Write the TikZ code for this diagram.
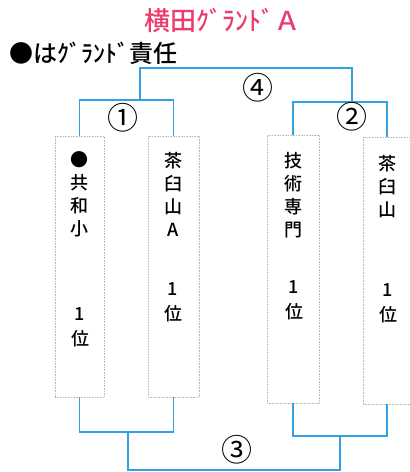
\documentclass[tikz,border=0pt]{standalone}
\usepackage{fontspec}
\setmainfont{Noto Sans CJK JP}
\newfontfamily\jpmedium{Noto Sans CJK JP Medium}
\definecolor{titlered}{RGB}{235,60,110}
\definecolor{lineblue}{RGB}{50,160,225}
\tikzset{
  bline/.style={lineblue, line width=1.3pt},
  teambox/.style={draw=gray!55, densely dotted, line width=0.6pt, inner sep=0pt},
  teamname/.style={anchor=north, inner sep=0pt, align=center, font=\jpmedium\fontsize{18}{23}\selectfont},
  rank/.style={inner sep=0pt, align=center, font=\jpmedium\fontsize{18}{25}\selectfont},
  gamenum/.style={inner sep=0pt, font=\fontsize{31}{31}\selectfont}
}
\begin{document}
\begin{tikzpicture}[x=1pt,y=-1pt]
    \useasboundingbox[fill=white] (0,0) rectangle (410,472);
    % heading
    \node[titlered, inner sep=0pt, font=\jpmedium\fontsize{26}{26}\selectfont] (title) at (222,20) {横田ｸﾞﾗﾝﾄﾞＡ};
    \node[anchor=west, inner sep=0pt, font=\jpmedium\fontsize{24}{24}\selectfont] (note) at (9,53) {●はｸﾞﾗﾝﾄﾞ責任};
    % teams
    \node[teambox, minimum width=49, minimum height=261] (b1) at (79.5,266.5) {};
    \node[teambox, minimum width=51, minimum height=261] (b2) at (173.5,266.5) {};
    \node[teambox, minimum width=52, minimum height=268] (b3) at (293,269) {};
    \node[teambox, minimum width=48, minimum height=267] (b4) at (387,270.5) {};
    \node[teamname] (n1) at ([yshift=-16pt]b1.north) {●\\共\\和\\小};
    \node[teamname] (n2) at ([yshift=-16pt]b2.north) {茶\\臼\\山\\A};
    \node[teamname] (n3) at ([yshift=-17pt]b3.north) {技\\術\\専\\門};
    \node[teamname] (n4) at ([yshift=-18pt]b4.north) {茶\\臼\\山};
    \node[rank] (r1) at (80,327) {1\\位};
    \node[rank] (r2) at (173,302) {1\\位};
    \node[rank] (r3) at (294,300) {1\\位};
    \node[rank] (r4) at (388,303) {1\\位};
    % bracket, upper side
    \coordinate (q1) at (140,100);
    \coordinate (q2) at (352,102);
    \coordinate (f4) at (246,68);
    \draw[bline] (b1.north) |- (q1) -| (b2.north);
    \draw[bline] (b3.north) |- (q2) -| (b4.north);
    \draw[bline] (q1) |- (f4) -| (q2);
    \node[gamenum] (g1) at (123,118) {①};
    \node[gamenum] (g2) at (352,117) {②};
    \node[gamenum] (g4) at (258,88) {④};
    % bracket, lower side
    \coordinate (p1) at (128,432);
    \coordinate (p2) at (340,436);
    \coordinate (f3) at (237,470);
    \draw[bline] (b1.south) |- (p1) -| (b2.south);
    \draw[bline] (b3.south) |- (p2) -| (b4.south);
    \draw[bline] (p1) |- (f3) -| (p2);
    \node[gamenum] (g3) at (237,450) {③};
\end{tikzpicture}
\end{document}
